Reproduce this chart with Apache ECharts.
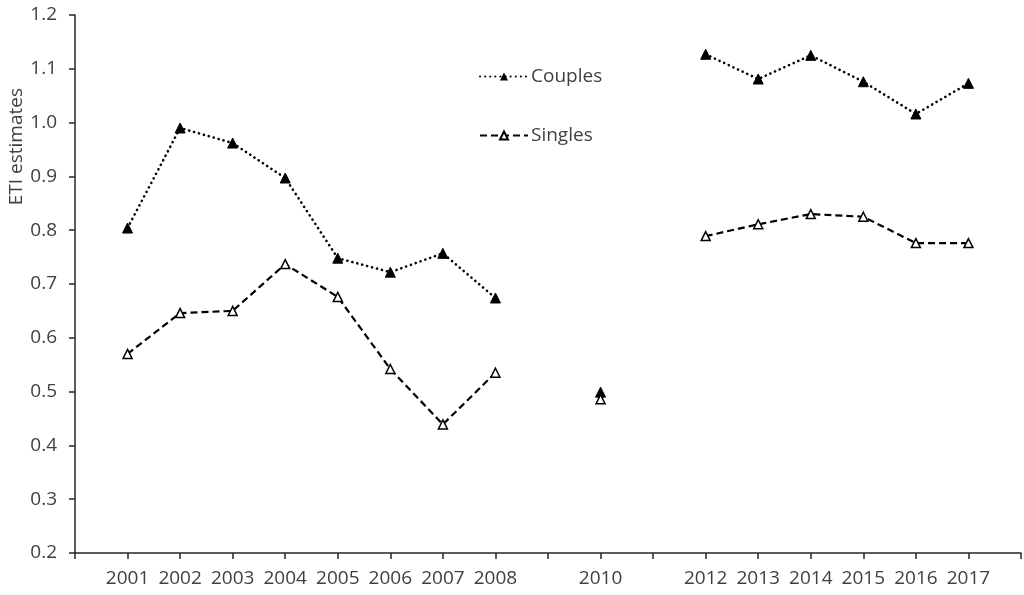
<!DOCTYPE html>
<html>
<head>
<meta charset="utf-8">
<script src="https://cdn.jsdelivr.net/npm/echarts@6/dist/echarts.min.js"></script>
<style>html,body{margin:0;padding:0;background:#fff}#c{width:1024px;height:595px}</style>
</head>
<body>
<div id="c"></div>
<script>
const years = [2001, 2002, 2003, 2004, 2005, 2006, 2007, 2008, 2009, 2010, 2011, 2012, 2013, 2014, 2015, 2016, 2017];
const couples = [0.804, 0.990, 0.962, 0.897, 0.748, 0.722, 0.757, 0.674, null, 0.499, null, 1.127, 1.081, 1.125, 1.076, 1.016, 1.073];
const singles = [0.570, 0.646, 0.650, 0.737, 0.676, 0.542, 0.439, 0.535, null, 0.486, null, 0.789, 0.811, 0.830, 0.825, 0.776, 0.776];
const hiddenLabels = [2000, 2009, 2011, 2018];

const FONT = 'Open Sans';
const pairs = arr => years.map((y, i) => [y, arr[i] == null ? '-' : arr[i]]);

const chart = echarts.init(document.getElementById('c'), null, {renderer: 'canvas'});
chart.setOption({
  animation: false,
  backgroundColor: '#fff',
  grid: {left: 75, top: 15, right: 1, bottom: 42, containLabel: false},
  legend: {
    orient: 'vertical',
    left: 474,
    top: 62,
    itemGap: 40,
    itemWidth: 48,
    itemHeight: 10,
    textStyle: {fontFamily: FONT, fontSize: 19, color: '#404040', padding: [0, 0, 0, -2]},
    data: ['Couples', 'Singles']
  },
  xAxis: {
    type: 'value',
    min: 2000,
    max: 2018,
    interval: 1,
    splitLine: {show: false},
    axisLine: {show: true, lineStyle: {color: '#262626', width: 1.5}},
    axisTick: {show: true, length: 6, lineStyle: {color: '#262626', width: 1.5}},
    axisLabel: {
      fontFamily: FONT, fontSize: 19, color: '#404040', margin: 16,
      formatter: v => hiddenLabels.indexOf(v) >= 0 ? '' : String(v)
    }
  },
  yAxis: {
    type: 'value',
    min: 0.2,
    max: 1.2,
    interval: 0.1,
    splitLine: {show: false},
    axisLine: {show: true, lineStyle: {color: '#262626', width: 1.5}},
    axisTick: {show: true, inside: false, length: 6, lineStyle: {color: '#262626', width: 1.5}},
    axisLabel: {
      fontFamily: FONT, fontSize: 19, color: '#404040', margin: 18,
      formatter: v => v.toFixed(1)
    }
  },
  graphic: [{
    type: 'text',
    left: 7,
    top: 88,
    rotation: Math.PI / 2,
    style: {text: 'ETI estimates', fontFamily: FONT, fontSize: 19, fill: '#404040'}
  }],
  series: [
    {
      name: 'Couples',
      type: 'line',
      data: pairs(couples),
      connectNulls: false,
      symbol: 'triangle',
      symbolSize: 10,
      lineStyle: {color: '#000', width: 2.6, type: [0.1, 5], cap: 'round'},
      itemStyle: {color: '#000', borderColor: '#000'}
    },
    {
      name: 'Singles',
      type: 'line',
      data: pairs(singles),
      connectNulls: false,
      symbol: 'triangle',
      symbolSize: 9,
      lineStyle: {color: '#000', width: 2.2, type: [7, 4]},
      itemStyle: {color: '#fff', borderColor: '#000', borderWidth: 1.5}
    }
  ]
});
</script>
</body>
</html>
